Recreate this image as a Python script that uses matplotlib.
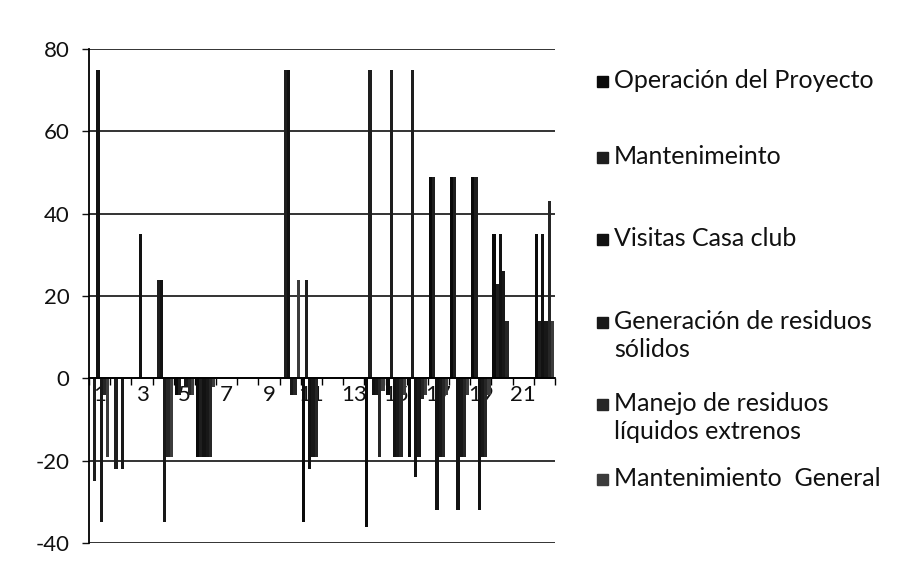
import matplotlib.pyplot as plt
import matplotlib.patches as mpatches
import numpy as np

plt.rcParams['font.family'] = ['Lato', 'DejaVu Sans']
plt.rcParams['axes.unicode_minus'] = False

categories = list(range(1, 23))
series_names = ['Operación del Proyecto', 'Mantenimeinto', 'Visitas Casa club',
                'Generación de residuos\nsólidos', 'Manejo de residuos\nlíquidos extrenos',
                'Mantenimiento  General']
operacion = [0, 0, 0, 0, -4, -19, 0, 0, 0, 0, -35, 0, 0, -36, -4, -19, 49, 49, 49, 35, 0, 35]
mantenimeinto = [-25, -22, 0, 24, -4, -19, 0, 0, 0, 75, 24, 0, 0, 75, 75, 75, 49, 49, 49, 23, 0, 14]
visitas = [75, 0, 35, 24, 0, -19, 0, 0, 0, 75, -22, 0, 0, -4, -19, -24, -32, -32, -32, 35, 0, 35]
generacion = [-35, -22, 0, -35, -2, -19, 0, 0, 0, -4, -19, 0, 0, -4, -19, -19, -19, -19, -19, 26, 0, 14]
manejo = [-4, 0, 0, -19, -4, -19, 0, 0, 0, -4, -19, 0, 0, -19, -19, -5, -19, -19, -19, 14, 0, 43]
mant_general = [-19, 0, 0, -19, -4, -2, 0, 0, 0, 24, 0, 0, 0, -3, -4, -4, -4, -4, -4, 0, 0, 14]
series = [operacion, mantenimeinto, visitas, generacion, manejo, mant_general]
colors = ['#0a0a0a', '#1e1e1e', '#121212', '#181818', '#262626', '#3c3c3c']

fig = plt.figure(figsize=(9.15, 5.74), dpi=100)
ax = fig.add_axes([89 / 915, 1 - 543 / 574, 466 / 915, 494 / 574])

x = np.array(categories)
w = 1 / 6.5
for i, vals in enumerate(series):
    ax.bar(x + (i - 2.5) * w, vals, width=w, color=colors[i], linewidth=0, zorder=3)

ax.set_xlim(0.5, 22.5)
ax.set_ylim(-40, 80)
ax.set_yticks(range(-40, 81, 20))
ax.yaxis.grid(True, color='#111111', linewidth=1.2, zorder=0)
ax.tick_params(axis='y', length=5, width=1, pad=9, labelsize=16, colors='#111111')

# category boundaries as ticks, labels on odd categories
ax.set_xticks(np.arange(0.5, 23, 1))
ax.set_xticklabels([])
ax.set_xticks(x, minor=True)
ax.set_xticklabels([str(c) if c % 2 == 1 else '' for c in categories], minor=True)
ax.tick_params(axis='x', which='major', length=5, width=1, direction='out')
ax.tick_params(axis='x', which='minor', length=0, pad=5, labelsize=16, colors='#111111')

ax.spines['bottom'].set_position(('data', 0))
ax.spines['bottom'].set_linewidth(1.3)
ax.spines['bottom'].set_zorder(4)
ax.spines['left'].set_linewidth(1.3)
ax.spines['left'].set_bounds(-40, 80)
ax.spines['top'].set_visible(False)
ax.spines['right'].set_visible(False)

# legend on the right
legend_y = [82, 158, 240, 323, 405, 480]
for name, col, yy in zip(series_names, colors, legend_y):
    fig.patches.append(mpatches.Rectangle((597 / 915, 1 - (yy + 5) / 574), 11 / 915, 11 / 574,
                                          transform=fig.transFigure, color=col))
    fig.text(614 / 915, 1 - (yy - 13) / 574, name, fontsize=18, color='#111111',
             va='top', ha='left', linespacing=1.25)

fig.savefig('out.png', dpi=100)
